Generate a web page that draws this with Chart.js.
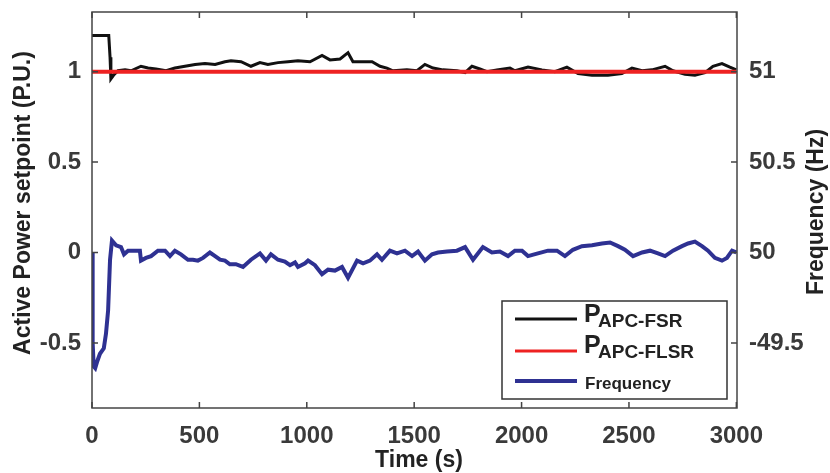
<!DOCTYPE html>
<html>
<head>
    <title>Active Power setpoint and Frequency</title>
    <style>
        body {
            margin: 0;
            padding: 0;
            background-color: #FFFFFF;
        }

        #chart-container {
            width: 830px;
            height: 473px;
        }
    </style>
</head>
<body>
    <div id="chart-container">
        <canvas id="chart" width="830" height="473"></canvas>
    </div>

    <script src="https://cdn.jsdelivr.net/npm/chart.js"></script>
    <script>
        // P_APC-FSR (black)
        var fsrTime = [0, 78, 84, 88, 100, 121, 154, 182, 228, 261, 298, 345, 386, 433, 480, 526, 573, 619, 647, 694,
            740, 782, 819, 866, 912, 959, 1015, 1071, 1108, 1155, 1192, 1215, 1257, 1304, 1341, 1373, 1401, 1466, 1513, 1550,
            1588, 1634, 1699, 1737, 1769, 1806, 1839, 1885, 1946, 1969, 2030, 2095, 2155, 2211, 2263, 2328, 2402, 2467, 2514, 2561,
            2607, 2668, 2705, 2761, 2807, 2854, 2891, 2933, 2970, 3000];
        var fsrValues = [1.2, 1.2, 1.08, 0.96, 0.98, 1.005, 1.01, 1.005, 1.03, 1.02, 1.015, 1.005, 1.02, 1.03, 1.04, 1.045, 1.04, 1.055, 1.06, 1.055,
            1.03, 1.05, 1.04, 1.05, 1.055, 1.06, 1.055, 1.09, 1.065, 1.07, 1.105, 1.055, 1.055, 1.055, 1.03, 1.02, 1.005, 1.01, 1.005, 1.04,
            1.02, 1.01, 1.005, 0.995, 1.03, 1.015, 1.0, 1.01, 1.02, 1.005, 1.025, 1.01, 1.0, 1.025, 0.99, 0.98, 0.98, 0.99, 1.02, 1.005,
            1.01, 1.03, 1.005, 0.985, 0.98, 0.995, 1.03, 1.045, 1.025, 1.01];

        // P_APC-FLSR (red)
        var flsrTime = [0, 3000];
        var flsrValues = [1, 1];

        // Frequency (blue), plotted as offset from 50 Hz
        var freqTime = [0, 3, 8, 15, 25, 37, 55, 65, 75, 84, 93, 112, 135, 149, 168, 200, 223, 228, 251, 275,
            307, 340, 363, 386, 414, 447, 470, 493, 517, 549, 573, 596, 619, 642, 670, 703, 740, 782, 810, 833,
            866, 898, 922, 945, 959, 992, 1006, 1038, 1071, 1099, 1131, 1164, 1192, 1234, 1262, 1294, 1327, 1350, 1387, 1420,
            1457, 1490, 1518, 1550, 1583, 1611, 1653, 1699, 1737, 1774, 1820, 1862, 1899, 1937, 1969, 2002, 2030, 2076, 2123, 2165,
            2202, 2239, 2281, 2328, 2374, 2412, 2449, 2481, 2519, 2561, 2598, 2635, 2668, 2705, 2747, 2775, 2807, 2840, 2868, 2900,
            2933, 2956, 2980, 3000];
        var freqValues = [0, -0.5, -0.63, -0.64, -0.6, -0.56, -0.53, -0.45, -0.32, -0.04, 0.066, 0.04, 0.03, -0.01, 0.01, 0.01, 0.01, -0.045, -0.03, -0.02,
            0.01, 0.01, -0.02, 0.01, -0.01, -0.04, -0.04, -0.045, -0.03, 0.0, -0.02, -0.04, -0.045, -0.065, -0.065, -0.08, -0.04, -0.005, -0.045, -0.01,
            -0.04, -0.05, -0.07, -0.055, -0.08, -0.06, -0.045, -0.07, -0.12, -0.095, -0.1, -0.08, -0.14, -0.045, -0.06, -0.045, -0.01, -0.04, 0.01, -0.005,
            0.01, -0.02, 0.005, -0.045, -0.01, 0, 0.005, 0.01, 0.03, -0.04, 0.03, 0.0, 0.005, -0.02, 0.01, 0.01, -0.02, -0.005, 0.01, 0.01,
            -0.02, 0.015, 0.035, 0.04, 0.05, 0.055, 0.035, 0.015, -0.02, 0, 0.01, -0.005, -0.02, 0.01, 0.035, 0.05, 0.06, 0.035, 0.01, -0.03,
            -0.045, -0.03, 0.01, 0];

        // Ticks
        var xTicks = [0, 500, 1000, 1500, 2000, 2500, 3000];
        var yTicks = [-0.5, 0, 0.5, 1];
        var freqTickLabels = ['-49.5', '50', '50.5', '51']; // right axis, same positions as yTicks

        var yMin = -0.86, yMax = 1.33;
        var fontFamily = "'Liberation Sans', Arial, sans-serif";

        function toPoints(xs, ys) {
            return xs.map(function(x, i) { return { x: x, y: ys[i] }; });
        }

        function setTicks(values) {
            return function(scale) {
                scale.ticks = values.map(function(v) { return { value: v }; });
            };
        }

        // fixed axis sizes so the plot box sits where the original does
        function fixSize(prop, size) {
            return function(scale) {
                scale[prop] = size;
                scale.paddingTop = 0;
                scale.paddingBottom = 0;
                scale.paddingLeft = 0;
                scale.paddingRight = 0;
            };
        }

        function plainLabel(value) {
            return String(value);
        }

        // Box, inward ticks, axis titles and legend (MATLAB look)
        var framePlugin = {
            id: 'framePlugin',
            afterDraw: function(chart) {
                var ctx = chart.ctx;
                var a = chart.chartArea;
                var xs = chart.scales.x;
                var ys = chart.scales.y;

                ctx.save();
                ctx.strokeStyle = '#444444';
                ctx.lineWidth = 1.5;
                ctx.strokeRect(a.left, a.top, a.right - a.left, a.bottom - a.top);

                ctx.beginPath();
                xTicks.forEach(function(v) {
                    var px = xs.getPixelForValue(v);
                    ctx.moveTo(px, a.bottom); ctx.lineTo(px, a.bottom - 6);
                    ctx.moveTo(px, a.top); ctx.lineTo(px, a.top + 6);
                });
                yTicks.forEach(function(v) {
                    var py = ys.getPixelForValue(v);
                    ctx.moveTo(a.left, py); ctx.lineTo(a.left + 6, py);
                    ctx.moveTo(a.right, py); ctx.lineTo(a.right - 6, py);
                });
                ctx.stroke();

                // axis titles
                ctx.fillStyle = '#222222';
                ctx.font = 'bold 23px ' + fontFamily;
                ctx.textAlign = 'center';
                ctx.textBaseline = 'middle';
                ctx.fillText('Time (s)', 419, 461);

                ctx.save();
                ctx.translate(24, 203);
                ctx.rotate(-Math.PI / 2);
                ctx.fillText('Active Power setpoint (P.U.)', 0, 0);
                ctx.restore();

                ctx.save();
                ctx.translate(817, 212);
                ctx.rotate(-Math.PI / 2);
                ctx.fillText('Frequency (Hz)', 0, 0);
                ctx.restore();

                // legend
                ctx.fillStyle = '#FFFFFF';
                ctx.fillRect(502, 301, 225, 98);
                ctx.strokeStyle = '#333333';
                ctx.lineWidth = 1.5;
                ctx.strokeRect(502, 301, 225, 98);

                var items = [
                    { color: '#111111', width: 3, y: 319 },
                    { color: '#EE2222', width: 3, y: 351 },
                    { color: '#2E3192', width: 4, y: 381 }
                ];
                items.forEach(function(it) {
                    ctx.strokeStyle = it.color;
                    ctx.lineWidth = it.width;
                    ctx.beginPath();
                    ctx.moveTo(515, it.y);
                    ctx.lineTo(577, it.y);
                    ctx.stroke();
                });

                ctx.fillStyle = '#222222';
                ctx.textAlign = 'left';
                ctx.textBaseline = 'alphabetic';
                ctx.font = 'bold 25px ' + fontFamily;
                ctx.fillText('P', 584, 322);
                ctx.fillText('P', 584, 353);
                ctx.font = 'bold 19px ' + fontFamily;
                ctx.fillText('APC-FSR', 598, 327);
                ctx.fillText('APC-FLSR', 598, 358);
                ctx.font = 'bold 17px ' + fontFamily;
                ctx.fillText('Frequency', 585, 389);

                ctx.restore();
            }
        };

        var tickFont = { family: fontFamily, size: 24, weight: 'bold' };

        var ctx = document.getElementById('chart').getContext('2d');
        var chart = new Chart(ctx, {
            type: 'line',
            data: {
                datasets: [{
                    label: 'P APC-FSR',
                    data: toPoints(fsrTime, fsrValues),
                    borderColor: '#111111',
                    borderWidth: 3,
                    order: 1
                }, {
                    label: 'P APC-FLSR',
                    data: toPoints(flsrTime, flsrValues),
                    borderColor: '#EE2222',
                    borderWidth: 4,
                    order: 0
                }, {
                    label: 'Frequency',
                    data: toPoints(freqTime, freqValues),
                    borderColor: '#2E3192',
                    borderWidth: 4,
                    order: 2
                }]
            },
            options: {
                responsive: false,
                animation: false,
                elements: {
                    point: { radius: 0 },
                    line: { tension: 0, fill: false }
                },
                layout: { padding: { top: 12, left: 0, right: 0, bottom: 0 } },
                plugins: {
                    legend: { display: false },
                    tooltip: { enabled: false }
                },
                scales: {
                    x: {
                        type: 'linear',
                        min: 0,
                        max: 3003,
                        afterBuildTicks: setTicks(xTicks),
                        afterFit: fixSize('height', 65),
                        grid: { display: false, drawTicks: false },
                        border: { display: false },
                        ticks: { font: tickFont, color: '#3A3A3A', padding: 14, maxRotation: 0, callback: plainLabel }
                    },
                    y: {
                        position: 'left',
                        min: yMin,
                        max: yMax,
                        afterBuildTicks: setTicks(yTicks),
                        afterFit: fixSize('width', 92),
                        grid: { display: false, drawTicks: false },
                        border: { display: false },
                        ticks: { font: tickFont, color: '#3A3A3A', padding: 11, callback: plainLabel }
                    },
                    y1: {
                        position: 'right',
                        min: yMin,
                        max: yMax,
                        afterBuildTicks: setTicks(yTicks),
                        afterFit: fixSize('width', 93),
                        grid: { display: false, drawTicks: false },
                        border: { display: false },
                        ticks: {
                            font: tickFont,
                            color: '#3A3A3A',
                            padding: 12,
                            callback: function(value) {
                                return freqTickLabels[yTicks.indexOf(value)];
                            }
                        }
                    }
                }
            },
            plugins: [framePlugin]
        });
    </script>
</body>
</html>
